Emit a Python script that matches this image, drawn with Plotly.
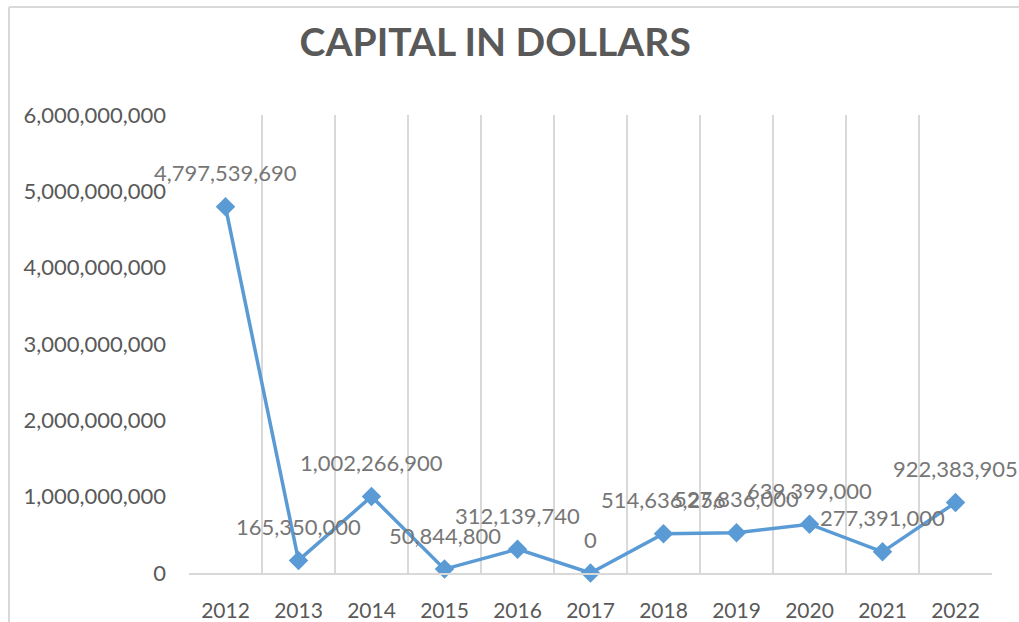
import plotly.graph_objects as go

# Capital raised per year, in US dollars
years = ["2012", "2013", "2014", "2015", "2016", "2017",
         "2018", "2019", "2020", "2021", "2022"]
capital = [4797539690, 165350000, 1002266900, 50844800, 312139740, 0,
           514636256, 527836000, 639399000, 277391000, 922383905]

y_ticks = [0, 1e9, 2e9, 3e9, 4e9, 5e9, 6e9]
y_tick_text = ["0", "1,000,000,000", "2,000,000,000", "3,000,000,000",
               "4,000,000,000", "5,000,000,000", "6,000,000,000"]

LINE = "#5B9BD5"
TEXT = "#595959"
LABEL = "#767676"
FONT = "Lato"

fig = go.Figure(
    go.Scatter(
        x=years,
        y=capital,
        mode="lines+markers",
        line=dict(color=LINE, width=3.5),
        marker=dict(symbol="diamond", size=15, color=LINE),
        cliponaxis=False,
        hoverinfo="skip",
    )
)

# Value labels sitting above each point (category index positions)
for i, v in enumerate(capital):
    fig.add_annotation(
        x=i, y=v, xref="x", yref="y",
        text=f"{v:,}", showarrow=False,
        yshift=34, yanchor="middle", xanchor="center",
        font=dict(family=FONT, size=22, color=LABEL),
    )

# Chart-area frame (left and top edges)
plot_l, plot_r, plot_t, plot_b = 189, 992, 115, 573
pw, ph = plot_r - plot_l, plot_b - plot_t
def px_x(x):
    return (x - plot_l) / pw
def px_y(y):
    return (plot_b - y) / ph

fig.add_shape(type="line", xref="paper", yref="paper",
              x0=px_x(9), x1=px_x(9), y0=px_y(622), y1=px_y(7),
              line=dict(color="#d9d9d9", width=2))
fig.add_shape(type="line", xref="paper", yref="paper",
              x0=px_x(9), x1=px_x(1019), y0=px_y(7), y1=px_y(7),
              line=dict(color="#d9d9d9", width=2))

fig.update_layout(
    width=1019,
    height=622,
    margin=dict(l=plot_l, r=1019 - plot_r, t=plot_t, b=622 - plot_b, autoexpand=False),
    paper_bgcolor="white",
    plot_bgcolor="white",
    showlegend=False,
    title=dict(
        text="<b>CAPITAL IN DOLLARS</b>",
        x=0.486, xref="container", xanchor="center",
        y=1 - 42 / 622, yref="container", yanchor="middle",
        font=dict(family=FONT, size=39, color=TEXT),
    ),
    xaxis=dict(
        type="category",
        range=[-0.5, 10.5],
        tickson="boundaries",
        showgrid=True,
        gridcolor="#d9d9d9",
        gridwidth=1.5,
        showline=True,
        linecolor="#d9d9d9",
        linewidth=1.5,
        ticks="",
        ticklabelstandoff=18,
        tickfont=dict(family=FONT, size=21, color=TEXT),
        zeroline=False,
    ),
    yaxis=dict(
        range=[0, 6e9],
        tickvals=y_ticks,
        ticktext=y_tick_text,
        showgrid=False,
        zeroline=False,
        showline=False,
        ticks="",
        ticklabelstandoff=22,
        tickfont=dict(family=FONT, size=22, color=TEXT),
    ),
)

fig.write_html("out.html")
